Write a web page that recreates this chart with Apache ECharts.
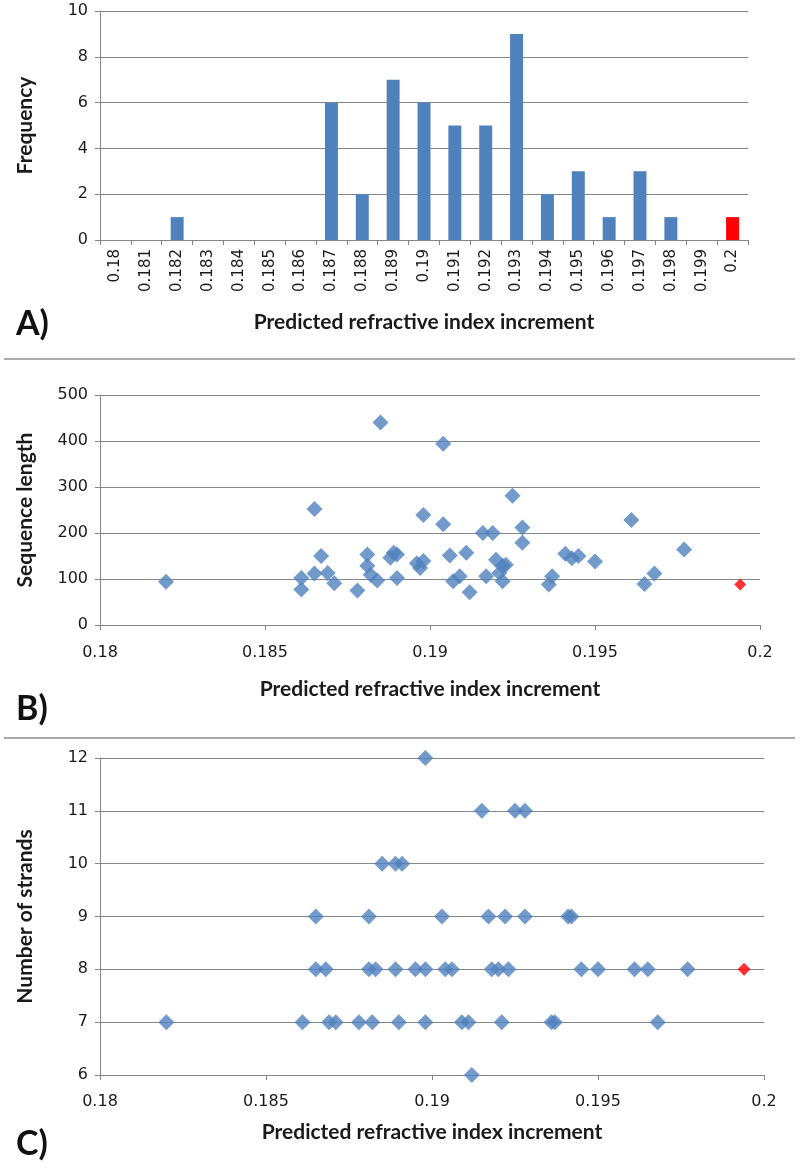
<!DOCTYPE html>
<html>
<head>
<meta charset="utf-8">
<script src="https://cdn.jsdelivr.net/npm/echarts@6/dist/echarts.min.js"></script>
<style>
html,body{margin:0;padding:0;background:#fff;}
#chart{width:800px;height:1173px;}
</style>
</head>
<body>
<div id="chart"></div>
<script>
// ---- Panel A: histogram ----
const histCategories = ['0.18','0.181','0.182','0.183','0.184','0.185','0.186','0.187','0.188','0.189','0.19','0.191','0.192','0.193','0.194','0.195','0.196','0.197','0.198','0.199','0.2'];
const histFrequency = [0,0,1,0,0,0,0,6,2,7,6,5,5,9,2,3,1,3,1,0,1];
const highlightCategory = '0.2';

// ---- Panel B: sequence length vs predicted dn/dc ----
const seqX = [0.1820,0.1861,0.1861,0.1865,0.1865,0.1867,0.1869,0.1871,0.1878,0.1881,0.1881,0.1882,0.1884,0.1885,0.1888,0.1889,0.1890,0.1890,0.1896,0.1897,0.1898,0.1898,0.1904,0.1904,0.1906,0.1907,0.1909,0.1911,0.1912,0.1916,0.1917,0.1919,0.1920,0.1921,0.1922,0.1922,0.1923,0.1925,0.1928,0.1928,0.1936,0.1937,0.1941,0.1943,0.1945,0.1950,0.1961,0.1965,0.1968,0.1977];
const seqY = [94,102,77,252,112,150,113,91,75,153,129,109,97,440,146,157,153,102,134,124,139,239,219,394,151,95,106,157,71,200,106,200,142,113,128,95,131,281,212,179,88,106,155,145,150,138,228,89,112,164];
const seqHighlight = [0.1994, 88];

// ---- Panel C: number of strands vs predicted dn/dc ----
const strandX = [0.1898,
  0.1915,0.1925,0.1928,
  0.1885,0.1889,0.1891,
  0.1865,0.1881,0.1903,0.1917,0.1922,0.1928,0.1941,0.1942,
  0.1865,0.1868,0.1881,0.1883,0.1889,0.1895,0.1898,0.1904,0.1906,0.1918,0.1920,0.1923,0.1945,0.1950,0.1961,0.1965,0.1977,
  0.1820,0.1861,0.1869,0.1871,0.1878,0.1882,0.1890,0.1898,0.1909,0.1911,0.1921,0.1936,0.1937,0.1968,
  0.1912];
const strandY = [12,
  11,11,11,
  10,10,10,
  9,9,9,9,9,9,9,9,
  8,8,8,8,8,8,8,8,8,8,8,8,8,8,8,8,8,
  7,7,7,7,7,7,7,7,7,7,7,7,7,7,
  6];
const strandHighlight = [0.1994, 8];

const xTitle = 'Predicted refractive index increment';
const panelLabels = ['A)', 'B)', 'C)'];

const BLUE = '#4F81BD', RED = '#FF0000', GRID = '#868686', TXT = '#1a1a1a';
const tickFont = {fontFamily:'DejaVu Sans', fontSize:15, color:TXT};
const titleFont = {fontFamily:'Lato', fontWeight:'bold', fontSize:21, color:TXT};

const chart = echarts.init(document.getElementById('chart'), null, {renderer:'canvas'});

const axisLine = {show:true, lineStyle:{color:GRID, width:1}};
const axisTick = {show:true, length:5, lineStyle:{color:GRID}};
const splitLine = {show:true, lineStyle:{color:GRID, width:1.2}};

function valueX(gridIndex, labelMargin, nameGap){
  return {type:'value', gridIndex, min:0.18, max:0.2, interval:0.005,
    axisLine, axisTick, splitLine:{show:false},
    axisLabel:Object.assign({margin:labelMargin}, tickFont, {fontSize:16}),
    name:xTitle, nameLocation:'middle', nameGap, nameTextStyle:titleFont};
}

const option = {
  animation:false,
  backgroundColor:'#fff',
  grid:[
    {left:100, right:52, top:11, height:229},
    {left:100, right:40, top:395, height:230},
    {left:100, right:36, top:758, height:317}
  ],
  xAxis:[
    {type:'category', gridIndex:0, data:histCategories, boundaryGap:true,
      axisLine, axisTick:{show:true, length:5, lineStyle:{color:GRID}},
      axisLabel:Object.assign({rotate:90, margin:9, interval:0}, tickFont),
      name:xTitle, nameLocation:'middle', nameGap:72, nameTextStyle:titleFont},
    valueX(1, 20, 54),
    valueX(2, 19, 47)
  ],
  yAxis:[
    {type:'value', gridIndex:0, min:0, max:10, interval:2, axisLine, axisTick, splitLine,
      axisLabel:Object.assign({margin:12}, tickFont, {fontSize:16}),
      name:'Frequency', nameLocation:'middle', nameGap:64, nameTextStyle:titleFont},
    {type:'value', gridIndex:1, min:0, max:500, interval:100, axisLine, axisTick, splitLine,
      axisLabel:Object.assign({margin:12}, tickFont, {fontSize:16}),
      name:'Sequence length', nameLocation:'middle', nameGap:64, nameTextStyle:titleFont},
    {type:'value', gridIndex:2, min:6, max:12, interval:1, axisLine, axisTick, splitLine,
      axisLabel:Object.assign({margin:12}, tickFont, {fontSize:16}),
      name:'Number of strands', nameLocation:'middle', nameGap:64, nameTextStyle:titleFont}
  ],
  series:[
    {type:'bar', xAxisIndex:0, yAxisIndex:0, barWidth:'42%',
      data:histFrequency.map((v,i)=>({value:v, itemStyle:{color: histCategories[i]===highlightCategory ? RED : BLUE}}))},
    {type:'scatter', xAxisIndex:1, yAxisIndex:1, symbol:'diamond', symbolSize:[16,16],
      itemStyle:{color:BLUE}, data:seqX.map((x,i)=>[x, seqY[i]])},
    {type:'scatter', xAxisIndex:1, yAxisIndex:1, symbol:'diamond', symbolSize:[12,12],
      itemStyle:{color:RED}, data:[seqHighlight]},
    {type:'scatter', xAxisIndex:2, yAxisIndex:2, symbol:'diamond', symbolSize:[16,16],
      itemStyle:{color:BLUE}, data:strandX.map((x,i)=>[x, strandY[i]])},
    {type:'scatter', xAxisIndex:2, yAxisIndex:2, symbol:'diamond', symbolSize:[13,13],
      itemStyle:{color:RED}, data:[strandHighlight]}
  ],
  graphic:[
    {type:'line', shape:{x1:4, y1:359, x2:795, y2:359}, style:{stroke:'#8c8c8c', lineWidth:1.5}},
    {type:'line', shape:{x1:4, y1:738, x2:795, y2:738}, style:{stroke:'#8c8c8c', lineWidth:1.5}},
    {type:'text', left:16, top:307, style:{text:panelLabels[0], font:'bold 34px Lato', fill:'#111'}},
    {type:'text', left:16, top:692, style:{text:panelLabels[1], font:'bold 34px Lato', fill:'#111'}},
    {type:'text', left:16, top:1127, style:{text:panelLabels[2], font:'bold 34px Lato', fill:'#111'}}
  ]
};
chart.setOption(option);
</script>
</body>
</html>
